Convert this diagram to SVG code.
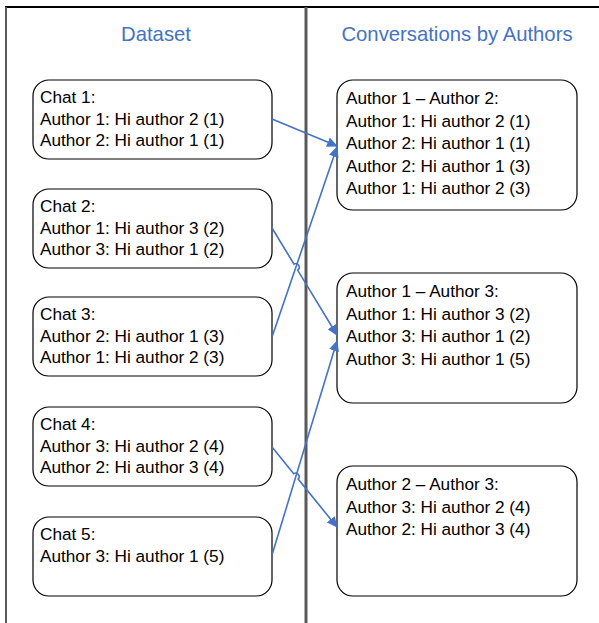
<svg xmlns="http://www.w3.org/2000/svg" width="599" height="623" viewBox="0 0 599 623">
  <style>
    .frame { stroke: #000; stroke-width: 2; fill: none; }
    .rule { stroke: #595959; fill: none; }
    .box { fill: #fff; stroke: #000; stroke-width: 1.2; }
    .txt { font-family: "Liberation Sans", Arial, sans-serif; font-size: 17.2px; fill: #000; }
    .title { font-family: "Liberation Sans", Arial, sans-serif; font-size: 20.3px; fill: #4472C4; text-anchor: middle; }
    .link { stroke: #4472C4; stroke-width: 1.6; fill: none; marker-end: url(#arrow); }
  </style>
  <defs>
    <marker id="arrow" viewBox="0 0 10 10" refX="9" refY="5" markerWidth="11" markerHeight="10" markerUnits="userSpaceOnUse" orient="auto" preserveAspectRatio="none">
      <path d="M0,0 L10,5 L0,10 z" fill="#4472C4"/>
    </marker>
  </defs>
  <rect width="599" height="623" fill="#fff"/>

  <!-- page frame and column divider -->
  <g id="frame">
    <line class="frame" x1="5" y1="7" x2="599" y2="7"/>
    <line class="rule" x1="6" y1="7" x2="6" y2="623" stroke-width="2"/>
    <line class="rule" x1="306" y1="7" x2="306" y2="623" stroke-width="3"/>
    <text class="title" x="156" y="41">Dataset</text>
    <text class="title" x="457" y="41">Conversations by Authors</text>
  </g>

  <!-- source chats -->
  <g id="chat1">
    <rect class="box" x="33" y="80" width="239" height="79" rx="16"/>
    <text class="txt" x="40" y="103">Chat 1:</text>
    <text class="txt" x="40" y="124.5">Author 1: Hi author 2 (1)</text>
    <text class="txt" x="40" y="146">Author 2: Hi author 1 (1)</text>
  </g>
  <g id="chat2">
    <rect class="box" x="33" y="189" width="239" height="79" rx="16"/>
    <text class="txt" x="40" y="212">Chat 2:</text>
    <text class="txt" x="40" y="233.5">Author 1: Hi author 3 (2)</text>
    <text class="txt" x="40" y="255">Author 3: Hi author 1 (2)</text>
  </g>
  <g id="chat3">
    <rect class="box" x="33" y="297" width="239" height="79" rx="16"/>
    <text class="txt" x="40" y="320">Chat 3:</text>
    <text class="txt" x="40" y="341.5">Author 2: Hi author 1 (3)</text>
    <text class="txt" x="40" y="363">Author 1: Hi author 2 (3)</text>
  </g>
  <g id="chat4">
    <rect class="box" x="33" y="407" width="239" height="79" rx="16"/>
    <text class="txt" x="40" y="430">Chat 4:</text>
    <text class="txt" x="40" y="451.5">Author 3: Hi author 2 (4)</text>
    <text class="txt" x="40" y="473">Author 2: Hi author 3 (4)</text>
  </g>
  <g id="chat5">
    <rect class="box" x="33" y="517" width="239" height="79" rx="16"/>
    <text class="txt" x="40" y="540">Chat 5:</text>
    <text class="txt" x="40" y="561.5">Author 3: Hi author 1 (5)</text>
  </g>

  <!-- grouped conversations -->
  <g id="conv12">
    <rect class="box" x="337" y="80" width="240" height="130" rx="16"/>
    <text class="txt" x="346" y="104">Author 1 – Author 2:</text>
    <text class="txt" x="346" y="126.5">Author 1: Hi author 2 (1)</text>
    <text class="txt" x="346" y="149">Author 2: Hi author 1 (1)</text>
    <text class="txt" x="346" y="171.5">Author 2: Hi author 1 (3)</text>
    <text class="txt" x="346" y="194">Author 1: Hi author 2 (3)</text>
  </g>
  <g id="conv13">
    <rect class="box" x="337" y="273" width="240" height="130" rx="16"/>
    <text class="txt" x="346" y="297">Author 1 – Author 3:</text>
    <text class="txt" x="346" y="319.5">Author 1: Hi author 3 (2)</text>
    <text class="txt" x="346" y="342">Author 3: Hi author 1 (2)</text>
    <text class="txt" x="346" y="364.5">Author 3: Hi author 1 (5)</text>
  </g>
  <g id="conv23">
    <rect class="box" x="337" y="466" width="240" height="130" rx="16"/>
    <text class="txt" x="346" y="490">Author 2 – Author 3:</text>
    <text class="txt" x="346" y="512.5">Author 3: Hi author 2 (4)</text>
    <text class="txt" x="346" y="535">Author 2: Hi author 3 (4)</text>
  </g>

  <!-- connectors -->
  <g id="connectors">
    <path class="link" d="M272,119 L337,146"/>
    <path class="link" d="M272,337 L337,147"/>
    <path class="link" d="M272,228 L294,264.1 A3.5,3.5 0 0 1 297.6,270.1 L337,335"/>
    <path class="link" d="M272,555 L337,341"/>
    <path class="link" d="M272,447 L293.7,473.7 A3.5,3.5 0 0 1 298.1,479.1 L337,527"/>
  </g>
</svg>
